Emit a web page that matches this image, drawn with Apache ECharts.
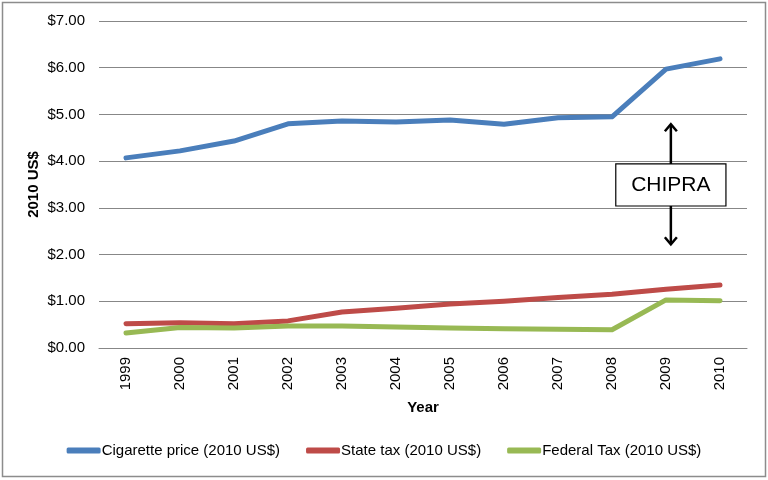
<!DOCTYPE html>
<html><head><meta charset="utf-8">
<script src="https://cdn.jsdelivr.net/npm/echarts@6/dist/echarts.min.js"></script>
<style>html,body{margin:0;padding:0;background:#fff}#c{width:768px;height:480px}</style>
</head><body><div id="c"></div>
<script>
const years = ['1999','2000','2001','2002','2003','2004','2005','2006','2007','2008','2009','2010'];
const cigarettePrice = [4.07, 4.22, 4.43, 4.80, 4.86, 4.84, 4.88, 4.79, 4.93, 4.95, 5.97, 6.19];
const stateTax = [0.52, 0.54, 0.52, 0.58, 0.77, 0.85, 0.94, 1.00, 1.08, 1.15, 1.26, 1.35];
const federalTax = [0.32, 0.44, 0.43, 0.47, 0.47, 0.45, 0.43, 0.41, 0.40, 0.39, 1.03, 1.01];
const seriesNames = ['Cigarette price (2010 US$)', 'State tax (2010 US$)', 'Federal Tax (2010 US$)'];
const colors = ['#4a7ebb', '#be4b48', '#98b954'];
// annotation (category index / value units)
const chipra = { label: 'CHIPRA', x: 10.09, upTip: 4.79, boxTop: 3.94, boxBottom: 3.04, downTip: 2.22, boxLeft: 9.07, boxRight: 11.11 };

const font = 'Liberation Sans, Arial, sans-serif';
const chart = echarts.init(document.getElementById('c'));
const mk = (name, data, color) => ({
  name, type: 'line', data, symbol: 'none', smooth: false,
  lineStyle: { width: 5, color, cap: 'round', join: 'round' },
  itemStyle: { color }
});
chart.setOption({
  animation: false,
  textStyle: { fontFamily: font },
  grid: { left: 99, right: 21, top: 21, bottom: 132, containLabel: false },
  xAxis: {
    type: 'category', data: years, boundaryGap: true,
    name: 'Year', nameLocation: 'middle', nameGap: 52, nameMoveOverlap: false,
    nameTextStyle: { fontFamily: font, fontSize: 15, fontWeight: 'bold', color: '#000' },
    axisLine: { lineStyle: { color: '#878787', width: 1 } },
    axisTick: { show: false },
    axisLabel: { rotate: 90, margin: 9, fontFamily: font, fontSize: 15, color: '#000' }
  },
  yAxis: {
    type: 'value', min: 0, max: 7, interval: 1,
    name: '2010 US$', nameLocation: 'middle', nameGap: 58, nameRotate: 90, nameMoveOverlap: false,
    nameTextStyle: { fontFamily: font, fontSize: 15, fontWeight: 'bold', color: '#000' },
    axisLine: { show: false }, axisTick: { show: false },
    splitLine: { lineStyle: { color: '#878787', width: 1 } },
    axisLabel: { margin: 14, fontFamily: font, fontSize: 15, color: '#000',
      formatter: v => '$' + v.toFixed(2) }
  },
  legend: {
    bottom: 17, left: 'center', itemWidth: 34, itemHeight: 6, itemGap: 26,
    icon: 'roundRect',
    textStyle: { fontFamily: font, fontSize: 15, color: '#000', padding: [0,0,0,-4] },
    data: seriesNames
  },
  series: [
    mk(seriesNames[0], cigarettePrice, colors[0]),
    mk(seriesNames[1], stateTax, colors[1]),
    mk(seriesNames[2], federalTax, colors[2])
  ]
});

function px(i) {
  const p0 = chart.convertToPixel({ xAxisIndex: 0 }, years[0]);
  const p1 = chart.convertToPixel({ xAxisIndex: 0 }, years[1]);
  return p0 + (p1 - p0) * i;
}
function py(v) { return chart.convertToPixel({ yAxisIndex: 0 }, v); }

const ax = px(chipra.x);
const yUp = py(chipra.upTip), yTop = py(chipra.boxTop), yBot = py(chipra.boxBottom), yDown = py(chipra.downTip);
const bl = px(chipra.boxLeft), br = px(chipra.boxRight);
const ah = 7, aw = 6;
const arrowStyle = { stroke: '#000', lineWidth: 2.5, fill: null };
chart.setOption({
  graphic: [
    { type: 'rect', shape: { x: 2.5, y: 2.5, width: 763, height: 474 }, style: { fill: null, stroke: '#8c8c8c', lineWidth: 1.5 }, silent: true },
    { type: 'line', shape: { x1: ax, y1: yTop, x2: ax, y2: yUp + 1 }, style: arrowStyle },
    { type: 'polyline', shape: { points: [[ax - aw, yUp + ah], [ax, yUp], [ax + aw, yUp + ah]] }, style: arrowStyle },
    { type: 'line', shape: { x1: ax, y1: yBot, x2: ax, y2: yDown - 1 }, style: arrowStyle },
    { type: 'polyline', shape: { points: [[ax - aw, yDown - ah], [ax, yDown], [ax + aw, yDown - ah]] }, style: arrowStyle },
    { type: 'rect', shape: { x: bl, y: yTop, width: br - bl, height: yBot - yTop }, style: { fill: '#fff', stroke: '#000', lineWidth: 1.2 } },
    { type: 'text', x: (bl + br) / 2, y: (yTop + yBot) / 2, style: { text: chipra.label, font: '21px ' + font, fill: '#000', align: 'center', verticalAlign: 'middle' } }
  ]
});
</script></body></html>
